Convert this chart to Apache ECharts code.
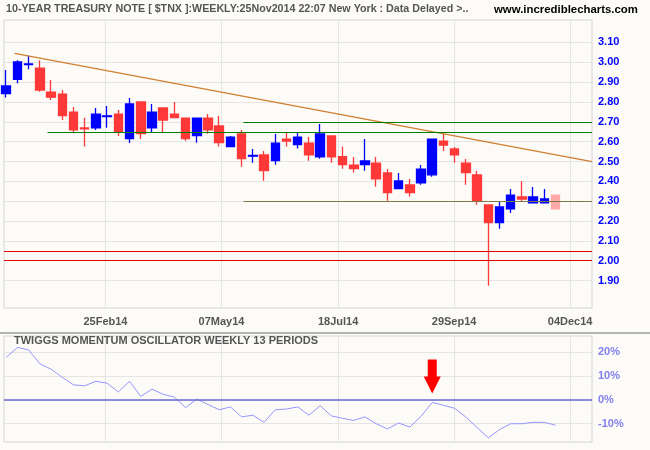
<!DOCTYPE html>
<html><head><meta charset="utf-8">
<script src="https://cdn.jsdelivr.net/npm/echarts@6/dist/echarts.min.js"></script>
<style>html,body{margin:0;padding:0;background:#fcfbf7}#c{width:650px;height:450px}</style>
</head><body><div id="c"></div>
<script>
// weekly candles, index 0 .. 49 (last = current week)
const openP  = [2.842,2.914,2.988,2.971,2.850,2.840,2.749,2.669,2.669,2.726,2.739,2.615,2.800,2.670,2.770,2.739,2.719,2.630,2.719,2.679,2.575,2.639,2.527,2.533,2.504,2.613,2.585,2.593,2.524,2.629,2.524,2.482,2.484,2.492,2.442,2.363,2.382,2.393,2.433,2.603,2.563,2.492,2.432,2.281,2.192,2.261,2.321,2.292,2.292,2.331];
const closeP = [2.881,3.002,2.992,2.860,2.824,2.731,2.660,2.665,2.739,2.730,2.647,2.790,2.640,2.749,2.709,2.721,2.615,2.719,2.660,2.595,2.623,2.514,2.531,2.454,2.593,2.603,2.623,2.534,2.639,2.524,2.484,2.464,2.503,2.413,2.343,2.402,2.343,2.462,2.613,2.583,2.534,2.444,2.301,2.192,2.271,2.331,2.311,2.321,2.311,2.261];
const lowP   = [2.822,2.894,2.965,2.852,2.810,2.709,2.642,2.575,2.659,2.670,2.629,2.593,2.613,2.647,2.647,2.721,2.605,2.595,2.640,2.575,2.575,2.474,2.494,2.403,2.484,2.575,2.565,2.504,2.514,2.494,2.464,2.444,2.454,2.373,2.302,2.363,2.323,2.383,2.423,2.553,2.494,2.383,2.282,1.874,2.161,2.240,2.301,2.292,2.292,2.261];
const highP  = [2.961,3.010,3.033,3.010,2.911,2.860,2.775,2.721,2.770,2.780,2.760,2.820,2.800,2.790,2.770,2.800,2.719,2.719,2.739,2.729,2.629,2.659,2.563,2.553,2.639,2.649,2.649,2.623,2.689,2.629,2.575,2.523,2.613,2.523,2.462,2.442,2.412,2.482,2.613,2.639,2.573,2.513,2.452,2.281,2.301,2.361,2.402,2.371,2.361,2.331];
// Twiggs momentum oscillator (%)
const twiggs = [17.9,22.1,21.0,15.2,12.9,9.5,6.3,5.9,7.8,7.0,3.3,7.8,1.4,4.5,2.3,1.1,-3.3,0.3,-2.0,-4.2,-3.0,-7.2,-6.5,-9.5,-4.2,-3.9,-3.0,-6.5,-2.5,-6.8,-7.8,-8.7,-7.2,-10.1,-12.3,-9.8,-11.5,-7.0,-1.1,-2.3,-3.6,-7.3,-11.7,-16.0,-12.6,-10.1,-10.1,-9.5,-9.5,-10.7];
// axis ticks
const dateLabels = ['25Feb14','07May14','18Jul14','29Sep14','04Dec14'];
const dateLabelAt = [8.85,19.2,29.6,39.95,50.3];
const priceTicks = ['1.90','2.00','2.10','2.20','2.30','2.40','2.50','2.60','2.70','2.80','2.90','3.00','3.10'];
const oscTicks = [-10,0,10,20];
// drawn lines
const trendX = [0.74, 52.25];
const trendY = [3.045, 2.499];
const levelY = [2.647, 2.70, 2.30, 2.05, 2.00];
const levelFrom = [3.68, 21.15, 21.15, -0.2, -0.2];
const arrowAt = 38;

const xMin = -0.2, xMax = 52.25;
const levelColors = ['#008000','#008000','#7d7a45','#e00000','#e00000'];

const candles = openP.map((o,i)=>{
  const item = {value:[i,o,closeP[i],lowP[i],highP[i]]};
  if (i === openP.length-1) item.itemStyle = {color:'#ffa8a8',color0:'#ffa8a8',borderColor:'#ffa8a8',borderColor0:'#ffa8a8'};
  return item;
});
const markLines = [[{coord:[trendX[0],trendY[0]],lineStyle:{color:'#d07f32',width:1.2,type:'solid'}},{coord:[trendX[1],trendY[1]]}]];
levelY.forEach((v,k)=>{
  markLines.push([{coord:[levelFrom[k],v],lineStyle:{color:levelColors[k],width:1.2,type:'solid'}},{coord:[xMax,v]}]);
});

const fontF = 'Liberation Sans, Arial, sans-serif';
const xCommon = {
  type:'value', min:xMin, max:xMax,
  axisLine:{show:false}, axisTick:{show:false, customValues:dateLabelAt},
  splitLine:{show:true, lineStyle:{color:'#e4e4e4',width:1}}
};
const chart = echarts.init(document.getElementById('c'), null, {renderer:'canvas'});
chart.setOption({
  animation:false,
  backgroundColor:'#fcfbf7',
  textStyle:{fontFamily:fontF},
  title:[
    {text:'10-YEAR TREASURY NOTE [ $TNX ]:WEEKLY:25Nov2014 22:07 New York : Data Delayed >..', left:6, top:4, padding:0,
     textStyle:{fontSize:10.7,fontWeight:'bold',color:'#555555',fontFamily:fontF}},
    {text:'www.incrediblecharts.com', left:494, top:4, padding:0, textStyle:{fontSize:11.4,fontWeight:'bold',color:'#000000',fontFamily:fontF}},
    {text:'TWIGGS MOMENTUM OSCILLATOR WEEKLY 13 PERIODS', left:14, top:335, padding:0, textStyle:{fontSize:11,fontWeight:'bold',color:'#555555',fontFamily:fontF}}
  ],
  graphic:[{type:'rect', left:0, top:332, shape:{width:650,height:2}, style:{fill:'#b4b4b4'}, z:10}],
  grid:[
    {left:4, right:58, top:20, height:288, show:true, borderColor:'#d4d4d4', borderWidth:1, backgroundColor:'transparent'},
    {left:4, right:58, top:336, height:106, show:true, borderColor:'#d4d4d4', borderWidth:1, backgroundColor:'transparent'}
  ],
  xAxis:[
    Object.assign({}, xCommon, {gridIndex:0,
      axisLabel:{show:true, customValues:dateLabelAt, margin:8, fontSize:11, fontWeight:'bold', color:'#555555',
        formatter:(v)=>{const k=dateLabelAt.findIndex(a=>Math.abs(a-v)<0.01); return k>=0?dateLabels[k]:'';}}}),
    Object.assign({}, xCommon, {gridIndex:1, axisLabel:{show:false, customValues:dateLabelAt}})
  ],
  yAxis:[
    {gridIndex:0, type:'value', position:'right', min:1.7616, max:3.2132,
     axisLine:{show:false}, axisTick:{show:false, customValues:priceTicks.map(Number)},
     axisLabel:{customValues:priceTicks.map(Number), margin:6, fontSize:11, fontWeight:'bold', color:'#0000ff',
       formatter:(v)=>{const k=priceTicks.findIndex(t=>Math.abs(Number(t)-v)<1e-6); return k>=0?priceTicks[k]:'';}},
     splitLine:{show:true, lineStyle:{color:'#e4e4e4'}}},
    {gridIndex:1, type:'value', position:'right', min:-17.8, max:26.9,
     axisLine:{show:false}, axisTick:{show:false, customValues:oscTicks},
     axisLabel:{customValues:oscTicks, margin:6, fontSize:11, fontWeight:'bold', color:'#8080f0', formatter:(v)=>Math.round(v)+'%'},
     splitLine:{show:true, lineStyle:{color:'#e4e4e4'}}}
  ],
  series:[
    {type:'candlestick', xAxisIndex:0, yAxisIndex:0, barWidth:9,
     dimensions:['idx','open','close','lowest','highest'], encode:{x:0, y:[1,2,3,4]},
     itemStyle:{color:'#0000ff', color0:'#ff3838', borderColor:'#0000ff', borderColor0:'#ff3838', borderWidth:1.3},
     data:candles,
     markLine:{symbol:'none', silent:true, label:{show:false}, lineStyle:{type:'solid'}, data:markLines}},
    {type:'line', xAxisIndex:1, yAxisIndex:1, symbol:'none', data:twiggs.map((v,i)=>[i,v]),
     lineStyle:{color:'#9696ff', width:1},
     markLine:{symbol:'none', silent:true, label:{show:false}, lineStyle:{color:'#6a6ad4', width:1.5, type:'solid'},
       data:[[{coord:[xMin,0]},{coord:[xMax,0]}]]},
     markPoint:{silent:true, data:[{coord:[arrowAt, twiggs[arrowAt]], symbol:'path://M4,0 L13,0 L13,17 L17,17 L8.5,34 L0,17 L4,17 Z',
        symbolSize:[17,34], symbolOffset:[0,-26], itemStyle:{color:'#ff0000'}, label:{show:false}}]}}
  ]
});
</script></body></html>
